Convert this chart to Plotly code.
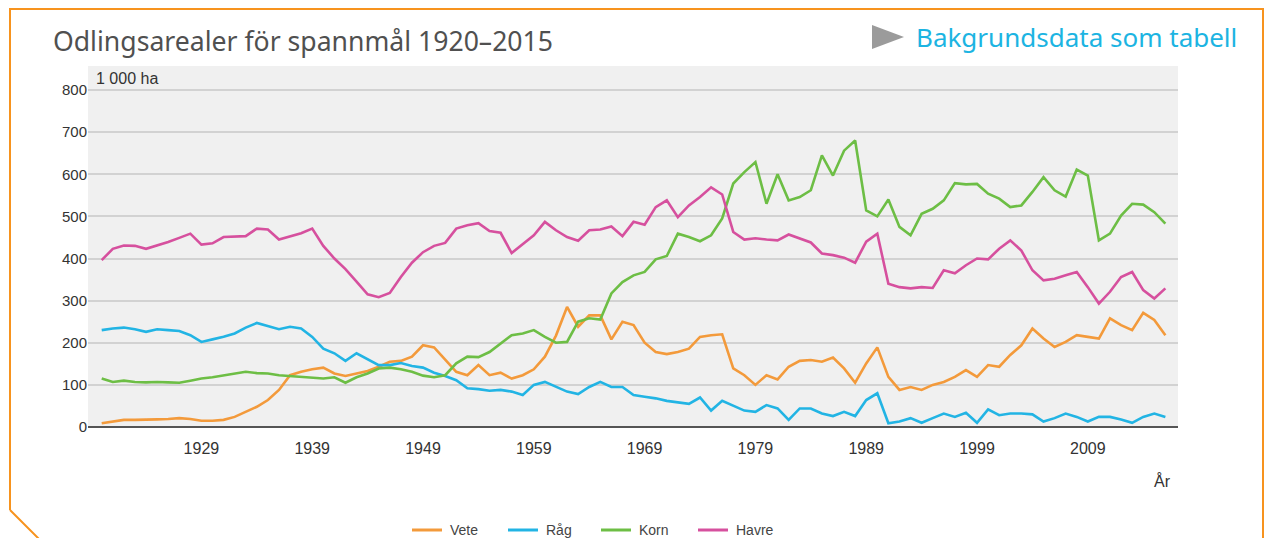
import plotly.graph_objects as go

years = list(range(1920, 2017))

vete = [9, 13, 17, 17, 17, 18, 19, 21, 19, 15,
        15, 17, 24, 36, 48, 64, 88, 123, 131, 137,
        141, 127, 121, 127, 133, 143, 155, 157, 167, 194,
        189, 160, 131, 123, 147, 123, 129, 115, 123, 137,
        167, 217, 285, 238, 265, 265, 208, 250, 242, 200,
        178, 173, 178, 186, 214, 218, 220, 139, 123, 100,
        123, 113, 143, 157, 159, 155, 165, 139, 105, 151,
        189, 119, 88, 95, 88, 100, 107, 119, 135, 119,
        147, 143, 171, 194, 234, 210, 190, 202, 218, 214,
        210, 258, 242, 230, 271, 254, 218]

rag = [230, 234, 236, 232, 226, 232, 230, 228, 218, 202,
       208, 214, 222, 236, 247, 239, 232, 238, 234, 214,
       186, 175, 157, 175, 160, 147, 147, 152, 145, 141,
       129, 121, 111, 92, 90, 86, 88, 84, 76, 100,
       107, 95, 84, 78, 95, 107, 95, 95, 76, 72,
       68, 62, 58, 55, 70, 39, 62, 50, 39, 36,
       52, 44, 17, 44, 44, 32, 26, 36, 26, 64,
       80, 9, 13, 21, 10, 21, 32, 24, 34, 10,
       42, 28, 32, 32, 30, 13, 21, 32, 24, 13,
       24, 24, 18, 10, 24, 32, 24]

korn = [115, 107, 110, 107, 106, 107, 106, 105, 110, 115,
        118, 122, 127, 131, 128, 127, 123, 121, 118, 116,
        115, 118, 105, 118, 127, 139, 141, 137, 131, 122,
        118, 123, 151, 167, 166, 178, 198, 218, 222, 230,
        214, 200, 202, 250, 258, 255, 317, 344, 360, 368,
        398, 406, 459, 451, 441, 455, 495, 578, 605, 629,
        530, 600, 538, 546, 562, 645, 597, 656, 680, 514,
        500, 540, 475, 455, 506, 518, 538, 579, 576, 577,
        554, 542, 522, 526, 558, 593, 562, 547, 611, 597,
        443, 459, 502, 530, 528, 510, 483]

havre = [396, 423, 431, 430, 423, 431, 439, 449, 459, 433,
         436, 451, 452, 453, 471, 469, 445, 452, 460, 471,
         430, 400, 375, 345, 315, 308, 318, 356, 390, 415,
         430, 437, 471, 479, 484, 465, 461, 413, 435, 455,
         487, 467, 451, 442, 467, 469, 476, 453, 487, 480,
         522, 538, 498, 526, 546, 569, 552, 463, 445, 448,
         445, 443, 457, 447, 438, 412, 408, 402, 390, 440,
         459, 340, 332, 329, 332, 330, 372, 365, 384, 400,
         398, 423, 443, 419, 372, 348, 352, 360, 368, 332,
         293, 321, 356, 368, 325, 305, 329]

series_names = ["Vete", "Råg", "Korn", "Havre"]
series_values = [vete, rag, korn, havre]
series_colors = ["#F39A3B", "#22B4E4", "#6DBE45", "#D6509E"]

x_tickvals = [1929, 1939, 1949, 1959, 1969, 1979, 1989, 1999, 2009]
y_tickvals = [0, 100, 200, 300, 400, 500, 600, 700, 800]

# Figure is placed in the page with an 8 px body margin
OFF = 8
W, H = 1272 - 2 * OFF, 546 - 2 * OFF
# plot area in page pixels: x 88..1178, y 66..428
L = 88 - OFF
R = W - (1178 - OFF)
T = 66 - OFF
B = H - (428 - OFF)
PW, PH = W - L - R, H - T - B


def px(x):
    """page x pixel -> paper coordinate"""
    return (x - OFF - L) / PW


def py(y):
    """page y pixel -> paper coordinate"""
    return (H - B - (y - OFF)) / PH


fig = go.Figure()
for name, vals, col in zip(series_names, series_values, series_colors):
    fig.add_trace(go.Scatter(x=years, y=vals, mode="lines", name=name,
                             line=dict(color=col, width=2.6), showlegend=False))

step = 11.08
x0 = 1920 - (101.7 - 88) / step
x1 = 1920 + (1178 - 101.7) / step
ppu = (427 - 90) / 800
y0 = (427 - 428) / ppu
y1 = (427 - 66) / ppu

fig.update_layout(
    width=W, height=H,
    margin=dict(l=L, r=R, t=T, b=B),
    paper_bgcolor="white",
    plot_bgcolor="#F0F0F0",
    font=dict(family="Liberation Sans, Arial", size=13, color="#333333"),
    showlegend=False,
    xaxis=dict(range=[x0, x1], tickvals=x_tickvals, showgrid=False, zeroline=False,
               ticks="outside", ticklen=6, tickcolor="rgba(0,0,0,0)",
               showline=False, tickfont=dict(size=16, color="#333333")),
    yaxis=dict(range=[y0, y1], tickvals=y_tickvals, showgrid=True, gridcolor="#D2D2D2",
               gridwidth=1.5, zeroline=True, zerolinecolor="#555555", zerolinewidth=2,
               ticks="", showline=False, tickfont=dict(size=15, color="#333333")),
)

# Orange frame
frame = (f"M {px(10)},{py(510)} L {px(10)},{py(9)} L {px(1263)},{py(9)} L {px(1263)},{py(560)}"
         f" M {px(10)},{py(510)} L {px(50)},{py(550)}")
fig.add_shape(type="path", xref="paper", yref="paper", path=frame,
              line=dict(color="#F7931E", width=2), layer="above")
# Grey triangle
tri = f"M {px(872)},{py(25)} L {px(904)},{py(37)} L {px(872)},{py(49)} Z"
fig.add_shape(type="path", xref="paper", yref="paper", path=tri,
              fillcolor="#9B9B9B", line=dict(width=0))

fig.add_annotation(xref="paper", yref="paper", x=px(51), y=py(41), xanchor="left", yanchor="middle",
                   text="Odlingsarealer för spannmål 1920–2015", showarrow=False,
                   font=dict(family="Noto Sans", size=26.6, color="#505050"))
fig.add_annotation(xref="paper", yref="paper", x=px(1239), y=py(37), xanchor="right", yanchor="middle",
                   text="Bakgrundsdata som tabell", showarrow=False,
                   font=dict(family="Noto Sans", size=26, color="#1CB4E2"))
fig.add_annotation(xref="paper", yref="paper", x=px(94), y=py(78), xanchor="left", yanchor="middle",
                   text="1 000 ha", showarrow=False, font=dict(size=16, color="#333333"))
fig.add_annotation(xref="paper", yref="paper", x=px(1162), y=py(481), xanchor="center", yanchor="middle",
                   text="År", showarrow=False, font=dict(size=16, color="#333333"))

# Legend drawn manually
legend_x = [412, 508, 601, 698]
legend_y = 530
for name, col, lx in zip(series_names, series_colors, legend_x):
    fig.add_shape(type="line", xref="paper", yref="paper",
                  x0=px(lx), x1=px(lx + 30), y0=py(legend_y), y1=py(legend_y),
                  line=dict(color=col, width=3))
    fig.add_annotation(xref="paper", yref="paper", x=px(lx + 36), y=py(legend_y),
                       xanchor="left", yanchor="middle", text=name, showarrow=False,
                       font=dict(size=14, color="#444444"))

fig.write_html("out.html")
